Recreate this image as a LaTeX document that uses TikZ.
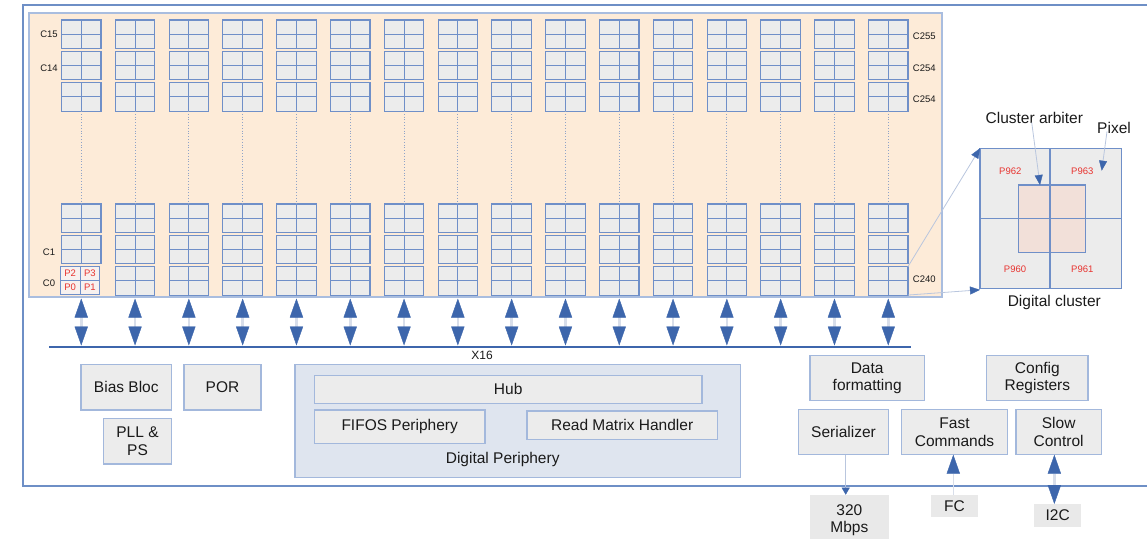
\documentclass[tikz,border=0pt]{standalone}
\usepackage{fontspec}
\setmainfont{Liberation Sans}
\usetikzlibrary{arrows.meta}
\definecolor{frameblue}{HTML}{6E8FC6}
\definecolor{cellblue}{HTML}{6F8FC8}
\definecolor{boxborder}{HTML}{A3B8DC}
\definecolor{boxfill}{HTML}{ECECEC}
\definecolor{dpfill}{HTML}{DFE5EF}
\definecolor{peach}{HTML}{FDEBD8}
\definecolor{mtxborder}{HTML}{A9BDDF}
\definecolor{darkblue}{HTML}{3D66AC}
\definecolor{shaft}{HTML}{D8DEEA}
\definecolor{pixred}{HTML}{E8332F}
\definecolor{arbpink}{HTML}{F2E0D9}
\definecolor{thinline}{HTML}{B9C6DE}
\definecolor{dotblue}{HTML}{8FA3C8}
\definecolor{txt}{HTML}{1A1A1A}
\definecolor{pcellfill}{HTML}{F7F1EF}
\definecolor{extfill}{HTML}{E9E9E9}
\newcommand\fbig{\fontsize{15.5pt}{17.5pt}\selectfont}
\newcommand\fsml{\fontsize{9.5pt}{11pt}\selectfont}
\newcommand\fmid{\fontsize{12pt}{14pt}\selectfont}
\begin{document}
\begin{tikzpicture}[x=1pt,y=-1pt,
  every node/.style={inner sep=0pt, outer sep=0pt, text=txt},
  frame/.style={draw=frameblue, line width=1.8pt},
  mtx/.style={draw=mtxborder, line width=1.2pt, fill=peach, minimum width=913pt, minimum height=284pt},
  cell/.style={draw=cellblue, line width=1.1pt, fill=boxfill, minimum width=39.5pt, minimum height=28.5pt,
    path picture={\draw[cellblue, line width=1pt] (path picture bounding box.north) -- (path picture bounding box.south) (path picture bounding box.west) -- (path picture bounding box.east);}},
  pcell/.style={cell, fill=pcellfill},
  lbl/.style={font=\fsml},
  plbl/.style={font=\fsml, text=pixred},
  dotline/.style={draw=dotblue, line width=0.8pt, dotted},
  biarrow/.style={draw=shaft, line width=2.5pt,
    {Triangle[length=19pt,width=13.3pt,color=darkblue,line width=0.4pt]}-{Triangle[length=19pt,width=13.3pt,color=darkblue,line width=0.4pt]}},
  uparrow/.style={draw=shaft, line width=1.6pt, -{Triangle[length=19pt,width=13.3pt,color=darkblue,line width=0.4pt]}},
  smallarrow/.style={draw=thinline, line width=0.8pt, -{Triangle[length=10pt,width=8pt,color=darkblue,line width=0.3pt]}},
  tinyarrow/.style={draw=thinline, line width=0.8pt, -{Triangle[length=7pt,width=8pt,color=darkblue,line width=0.3pt]}},
  bus/.style={draw=darkblue, line width=2.2pt},
  blk/.style={draw=boxborder, line width=1.3pt, fill=boxfill, font=\fbig, align=center},
  ext/.style={fill=extfill, font=\fbig, align=center},
]
\useasboundingbox (0,0) rectangle (1147,538);
\draw[frame] (1147,5) -- (23,5) -- (23,486) -- (1147,486);
% pixel matrix
\node[mtx] (mtx) at (485.5,155) {};
\foreach \k in {0,...,15}{
  \pgfmathsetmacro\cx{81.25+53.8*\k}
  \foreach \r/\y in {a/34.2,b/65.5,c/96.8,d/218.2,e/249.5}{
    \node[cell] (cell-\k-\r) at (\cx,\y) {};
  }
  \ifnum\k>0 \node[cell] (cell-\k-f) at (\cx,280.8) {};\fi
  \draw[dotline] (cell-\k-c.south) -- (cell-\k-d.north);
  \coordinate (top-\k) at (\cx,298.5);
  \coordinate (bus-\k) at (\cx,345.5);
  \draw[biarrow] (top-\k) -- (bus-\k);
}
\node[pcell] (cell-0-f) at (80,280.5) {};
\node[plbl] (p2) at ([shift={(-9.9,-7.1)}]cell-0-f.center) {P2};
\node[plbl] (p3) at ([shift={(9.9,-7.1)}]cell-0-f.center) {P3};
\node[plbl] (p0) at ([shift={(-9.9,7.1)}]cell-0-f.center) {P0};
\node[plbl] (p1) at ([shift={(9.9,7.1)}]cell-0-f.center) {P1};
% row labels
\node[lbl] (lc15) at (49,34.3) {C15};
\node[lbl] (lc14) at (49,68) {C14};
\node[lbl] (lc1) at (49,252) {C1};
\node[lbl] (lc0) at (49,283) {C0};
\node[lbl] (lc255) at (924.3,36.3) {C255};
\node[lbl] (lc254a) at (924.3,68) {C254};
\node[lbl] (lc254b) at (924.3,99.3) {C254};
\node[lbl] (lc240) at (924.3,279.3) {C240};
% bus
\coordinate (busL) at (49.3,346.6);
\coordinate (busR) at (911,346.6);
\draw[bus] (busL) -- (busR);
\node[font=\fmid] (x16) at (482,355.7) {X16};
% digital cluster
\node[draw=cellblue, line width=1.1pt, fill=boxfill, minimum width=141.7pt, minimum height=140pt] (dc) at (1050.85,218.3) {};
\node[draw=cellblue, line width=1.1pt, fill=arbpink, minimum width=67.4pt, minimum height=67.3pt] (arb) at (1052,218.65) {};
\draw[cellblue, line width=1.1pt] ([xshift=-0.85pt]dc.north) -- ([xshift=-0.85pt]dc.south) (dc.west) -- (dc.east);
\node[plbl] (p962) at (1010.3,171) {P962};
\node[plbl] (p963) at (1082.3,171) {P963};
\node[plbl] (p960) at (1015,269.3) {P960};
\node[plbl] (p961) at (1082.3,269.3) {P961};
\node[font=\fbig] (ca) at (1034.3,118.3) {Cluster arbiter};
\node[font=\fbig] (pix) at (1114,127.7) {Pixel};
\node[font=\fbig] (dcl) at (1054.3,302.7) {Digital cluster};
\coordinate (pixtip) at (1101.7,170.7);
\draw[smallarrow] ([xshift=-2.6pt,yshift=1.5pt]ca.south) -- ([xshift=-12pt]arb.north);
\draw[smallarrow] ([xshift=-7pt,yshift=2pt]pix.south) -- (pixtip);
\draw[smallarrow] (cell-15-f.north east) -- (dc.north west);
\draw[smallarrow] (cell-15-f.south east) -- ([yshift=-1.5pt]dc.south west);
% periphery blocks
\node[blk, minimum width=90.7pt, minimum height=45.7pt] (bias) at (126.3,387.2) {Bias Bloc};
\node[blk, minimum width=77pt, minimum height=45.7pt] (por) at (222.5,387.2) {POR};
\node[blk, minimum width=68.4pt, minimum height=45.7pt] (pll) at (137.5,441.2) {PLL \&\\PS};
\node[draw=boxborder, line width=1.3pt, fill=dpfill, minimum width=445.7pt, minimum height=113pt] (dp) at (517.85,420.8) {};
\node[blk, minimum width=387.7pt, minimum height=28pt] (hub) at (508.15,389.3) {Hub};
\node[blk, minimum width=170.7pt, minimum height=33.7pt] (fifos) at (399.65,426.85) {FIFOS Periphery};
\node[blk, minimum width=190.3pt, minimum height=28.3pt] (rmh) at (622.15,425.15) {Read Matrix Handler};
\node[font=\fbig] (dpl) at (502.7,459) {Digital Periphery};
\node[blk, minimum width=114.3pt, minimum height=45pt] (dfmt) at (867.15,378.2) {Data\\formatting};
\node[blk, minimum width=101.3pt, minimum height=45pt] (cfg) at (1037.35,378.2) {Config\\Registers};
\node[blk, minimum width=90.4pt, minimum height=45.4pt] (ser) at (843.5,432) {Serializer};
\node[blk, minimum width=105.6pt, minimum height=45.4pt] (fcmd) at (954.5,432) {Fast\\Commands};
\node[blk, minimum width=85.3pt, minimum height=45.4pt] (slow) at (1058.65,432) {Slow\\Control};
% external pins
\node[ext, minimum width=78.7pt, minimum height=50.6pt] (mbps) at (849.35,520) {320\\Mbps};
\node[ext, minimum width=47pt, minimum height=22.6pt] (fc) at (954.5,506) {FC};
\node[ext, minimum width=47.3pt, minimum height=22.7pt] (i2c) at (1057.65,515.35) {I2C};
\draw[tinyarrow] ([xshift=2.2pt]ser.south) -- ([xshift=2.2pt]ser.south |- mbps.north);
\draw[uparrow] ([xshift=-1.2pt]fc.north) -- ([xshift=-1.2pt]fc.north |- fcmd.south);
\draw[biarrow] ([xshift=-3.3pt]i2c.north) -- ([xshift=-3.3pt]i2c.north |- slow.south);
\end{tikzpicture}
\end{document}
